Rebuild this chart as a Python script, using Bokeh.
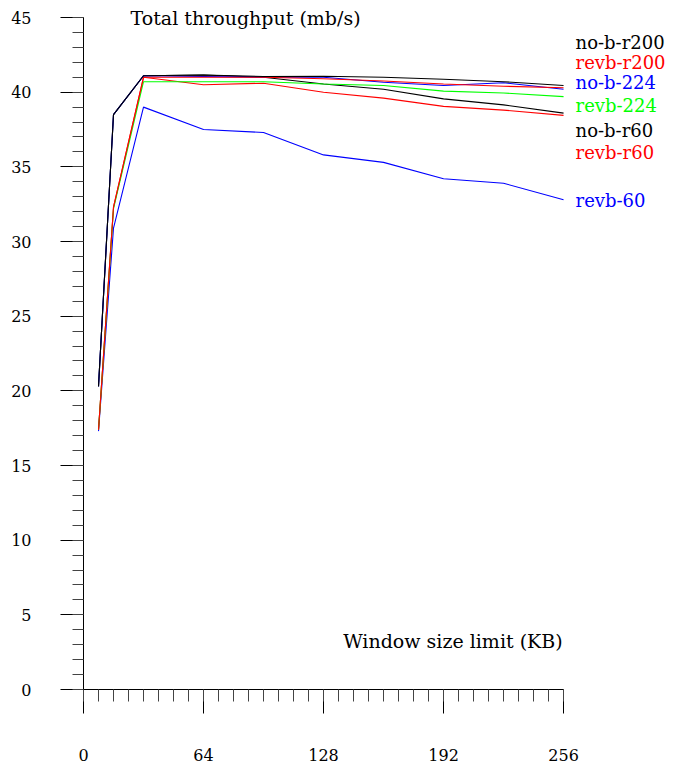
from bokeh.plotting import figure
from bokeh.models import Range1d, FixedTicker, Label
from bokeh.embed import file_html
from bokeh.resources import INLINE

# window size limit (KB)
window_kb = [8, 16, 32, 64, 96, 128, 160, 192, 224, 256]

no_b_r200 = [20.3, 38.5, 41.1, 41.15, 41.05, 41.07, 41.0, 40.87, 40.7, 40.45]
revb_r200 = [17.4, 32.3, 41.0, 41.0, 41.0, 40.9, 40.75, 40.55, 40.4, 40.3]
no_b_224 = [20.3, 38.5, 41.1, 41.05, 41.0, 41.0, 40.67, 40.45, 40.63, 40.2]
revb_224 = [17.4, 32.2, 40.7, 40.7, 40.7, 40.55, 40.45, 40.07, 39.95, 39.7]
no_b_r60 = [20.3, 38.5, 41.1, 41.15, 41.0, 40.55, 40.2, 39.55, 39.15, 38.6]
revb_r60 = [17.4, 32.3, 41.0, 40.5, 40.6, 40.0, 39.6, 39.05, 38.8, 38.45]
revb_60 = [17.3, 30.9, 39.0, 37.5, 37.3, 35.8, 35.3, 34.2, 33.9, 32.8]

series_names = ["no-b-r200", "revb-r200", "no-b-224", "revb-224", "no-b-r60", "revb-r60", "revb-60"]
series_values = [no_b_r200, revb_r200, no_b_224, revb_224, no_b_r60, revb_r60, revb_60]
series_colors = ["#000000", "#ff0000", "#0000ff", "#00ff00", "#000000", "#ff0000", "#0000ff"]

x_major = [0, 64, 128, 192, 256]
x_minor = list(range(0, 257, 8))
y_major = [0, 5, 10, 15, 20, 25, 30, 35, 40, 45]
y_minor = list(range(0, 46, 1))

title_text = "Total throughput (mb/s)"
xlabel_text = "Window size limit (KB)"

FONT = "DejaVu Serif"

# axes span 0..256 and 0..45; the frame is a bit larger so the key fits
X_END = 315.7
Y_END = 46.14

p = figure(width=675, height=765, output_backend="svg", toolbar_location=None,
           x_range=Range1d(0, X_END), y_range=Range1d(0, Y_END),
           min_border_left=83, min_border_right=0, min_border_top=0, min_border_bottom=76)
p.outline_line_color = None
p.xgrid.visible = False
p.ygrid.visible = False
p.background_fill_color = "white"
p.border_fill_color = "white"

for ax in (p.xaxis[0], p.yaxis[0]):
    ax.axis_line_color = "black"
    ax.axis_line_width = 1
    ax.major_tick_in = 0
    ax.minor_tick_in = 0
    ax.major_tick_line_color = "black"
    ax.minor_tick_line_color = "#444444"
    ax.major_label_text_font = FONT
    ax.major_label_text_font_size = "16px"
    ax.major_label_text_color = "black"

p.xaxis[0].ticker = FixedTicker(ticks=x_major, minor_ticks=x_minor)
p.xaxis[0].bounds = (0, 256)
p.xaxis[0].major_tick_out = 24
p.xaxis[0].minor_tick_out = 12
p.xaxis[0].major_label_standoff = 35

p.yaxis[0].ticker = FixedTicker(ticks=y_major, minor_ticks=y_minor)
p.yaxis[0].bounds = (0, 45)
p.yaxis[0].major_tick_out = 23
p.yaxis[0].minor_tick_out = 11
p.yaxis[0].major_label_standoff = 29

for name, vals, col in reversed(list(zip(series_names, series_values, series_colors))):
    p.line(window_kb, vals, line_color=col, line_width=1.1)

# key labels at right (text only)
label_x = 262.4
label_y = [43.3, 42.0, 40.65, 39.1, 37.45, 35.95, 32.75]
for name, col, ly in zip(series_names, series_colors, label_y):
    p.add_layout(Label(x=label_x, y=ly, text=name, text_color=col, text_font=FONT,
                       text_font_size="18px", text_baseline="middle", text_align="left"))

p.add_layout(Label(x=25.1, y=45.0, text=title_text, text_font=FONT, text_font_size="19px",
                   text_baseline="middle", text_align="left", text_color="black"))
p.add_layout(Label(x=255.5, y=3.28, text=xlabel_text, text_font=FONT, text_font_size="19px",
                   text_baseline="middle", text_align="right", text_color="black"))

open("out.html", "w").write(file_html(p, INLINE))
